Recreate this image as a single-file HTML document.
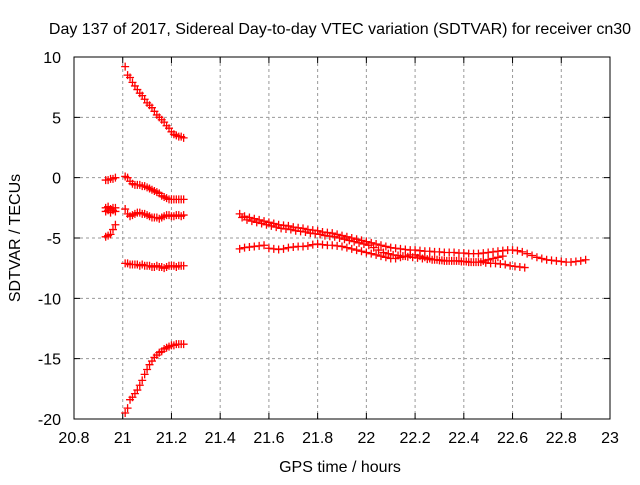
<!DOCTYPE html>
<html><head><meta charset="utf-8"><style>
body{margin:0;background:#fff}
svg text{font-family:"Liberation Sans",Arial,sans-serif;font-size:16px;fill:#000}
</style></head><body>
<svg id="c" width="640" height="480">
<text x="340" y="34" text-anchor="middle">Day 137 of 2017, Sidereal Day-to-day VTEC variation (SDTVAR) for receiver cn30</text>
<text x="340" y="472" text-anchor="middle">GPS time / hours</text>
<text transform="translate(20,238) rotate(-90)" text-anchor="middle">SDTVAR / TECUs</text>
<g id="grid"></g><g id="marks"></g>
<rect x="74" y="57" width="536" height="362" fill="none" stroke="#000" stroke-width="1"/>
</svg>
<script>
const xTicks=[20.8,21,21.2,21.4,21.6,21.8,22,22.2,22.4,22.6,22.8,23];
const xTickLabels=["20.8","21","21.2","21.4","21.6","21.8","22","22.2","22.4","22.6","22.8","23"];
const yTicks=[10,5,0,-5,-10,-15,-20];
const yTickLabels=["10","5","0","-5","-10","-15","-20"];
const xE=[21.01,21.02,21.03,21.04,21.05,21.06,21.07,21.08,21.09,21.10,21.11,21.12,21.13,21.14,21.15,21.16,21.17,21.18,21.19,21.20,21.21,21.22,21.23,21.24,21.25];
const sA=[9.2,8.5,8.3,7.9,7.6,7.3,7.0,6.8,6.5,6.2,6.0,5.8,5.5,5.2,5.0,4.8,4.6,4.3,4.1,3.8,3.6,3.5,3.4,3.4,3.3];
const sB=[0.1,0.0,-0.3,-0.5,-0.6,-0.6,-0.6,-0.7,-0.7,-0.8,-0.9,-1.0,-1.1,-1.2,-1.3,-1.5,-1.6,-1.7,-1.8,-1.8,-1.8,-1.8,-1.8,-1.8,-1.8];
const sC=[-2.6,-3.0,-3.2,-3.1,-3.0,-2.9,-2.9,-3.0,-3.0,-3.1,-3.2,-3.3,-3.3,-3.3,-3.4,-3.3,-3.2,-3.1,-3.1,-3.2,-3.2,-3.1,-3.1,-3.2,-3.1];
const sD=[-7.1,-7.1,-7.2,-7.2,-7.2,-7.2,-7.3,-7.2,-7.3,-7.3,-7.3,-7.4,-7.4,-7.3,-7.4,-7.4,-7.5,-7.4,-7.3,-7.3,-7.3,-7.4,-7.3,-7.3,-7.3];
const sE=[-19.5,-19.1,-18.4,-18.2,-17.9,-17.6,-17.2,-16.8,-16.3,-15.9,-15.5,-15.2,-14.9,-14.7,-14.5,-14.4,-14.2,-14.1,-14.0,-13.9,-13.9,-13.8,-13.8,-13.8,-13.8];
const xP=[20.93,20.94,20.95,20.96,20.97];
const sP1=[-0.2,-0.2,-0.1,-0.1,0.0];
const sP2=[-2.5,-2.4,-2.6,-2.5,-2.5];
const sP3=[-2.8,-2.7,-2.9,-2.7,-2.8];
const sP4=[-4.9,-4.8,-4.7,-4.3,-3.9];
const xU=[21.48,21.50,21.52,21.54,21.56,21.58,21.60,21.62,21.64,21.66,21.68,21.70,21.72,21.74,21.76,21.78,21.80,21.82,21.84,21.86,21.88,21.90,21.92,21.94,21.96,21.98,22.00,22.02,22.04,22.06,22.08,22.10,22.12,22.14,22.16,22.18,22.20,22.22,22.24,22.26,22.28,22.30,22.32,22.34,22.36,22.38,22.40,22.42,22.44,22.46,22.48,22.50,22.52,22.54,22.56,22.58,22.60,22.62,22.64,22.66,22.68,22.70,22.72,22.74,22.76,22.78,22.80,22.82,22.84,22.86,22.88,22.90];
const sU=[-3.0,-3.2,-3.3,-3.4,-3.5,-3.6,-3.7,-3.8,-3.9,-3.95,-4.0,-4.1,-4.15,-4.2,-4.3,-4.35,-4.4,-4.5,-4.55,-4.6,-4.7,-4.8,-4.9,-5.0,-5.1,-5.2,-5.3,-5.4,-5.5,-5.6,-5.7,-5.8,-5.85,-5.9,-5.95,-6.0,-6.0,-6.05,-6.1,-6.1,-6.15,-6.15,-6.2,-6.2,-6.2,-6.25,-6.25,-6.3,-6.3,-6.3,-6.25,-6.2,-6.15,-6.1,-6.05,-6.0,-6.0,-6.05,-6.15,-6.3,-6.45,-6.6,-6.7,-6.8,-6.85,-6.9,-6.95,-7.0,-7.0,-6.95,-6.9,-6.8];
const xU2=[21.49,21.51,21.53,21.55,21.57,21.59,21.61,21.63,21.65,21.67,21.69,21.71,21.73,21.75,21.77,21.79,21.81,21.83,21.85,21.87,21.89,21.91,21.93,21.95,21.97,21.99,22.01,22.03,22.05,22.07,22.09,22.11,22.13,22.15,22.17,22.19,22.21,22.23,22.25,22.27,22.29,22.31,22.33,22.35,22.37,22.39,22.41,22.43,22.45,22.47,22.49,22.51,22.53,22.55,22.57,22.59,22.61,22.63,22.65];
const sU2=[-3.3,-3.5,-3.6,-3.7,-3.8,-3.9,-4.0,-4.1,-4.2,-4.25,-4.3,-4.4,-4.45,-4.5,-4.6,-4.65,-4.7,-4.8,-4.85,-4.9,-5.0,-5.1,-5.2,-5.3,-5.4,-5.5,-5.6,-5.8,-6.0,-6.2,-6.3,-6.4,-6.45,-6.5,-6.55,-6.6,-6.65,-6.7,-6.75,-6.8,-6.8,-6.85,-6.9,-6.9,-6.9,-6.95,-6.95,-7.0,-7.0,-7.0,-7.05,-7.1,-7.1,-7.15,-7.2,-7.3,-7.35,-7.4,-7.45];
const xL=[21.48,21.50,21.52,21.54,21.56,21.58,21.60,21.62,21.64,21.66,21.68,21.70,21.72,21.74,21.76,21.78,21.80,21.82,21.84,21.86,21.88,21.90,21.92,21.94,21.96,21.98,22.00,22.02,22.04,22.06,22.08,22.10,22.12,22.14,22.16,22.18,22.20,22.22,22.24,22.26,22.28,22.30,22.32,22.34,22.36,22.38,22.40,22.42,22.44,22.46,22.48,22.50,22.52,22.54,22.56];
const sL=[-5.9,-5.8,-5.75,-5.7,-5.65,-5.6,-5.85,-5.9,-5.95,-5.9,-5.8,-5.75,-5.7,-5.7,-5.65,-5.55,-5.5,-5.55,-5.6,-5.6,-5.65,-5.7,-5.8,-5.9,-6.0,-6.1,-6.2,-6.3,-6.4,-6.5,-6.6,-6.7,-6.7,-6.6,-6.5,-6.4,-6.4,-6.5,-6.6,-6.7,-6.8,-6.85,-6.9,-6.9,-6.9,-6.9,-6.95,-7.0,-7.0,-7.0,-6.9,-6.8,-6.7,-6.6,-6.5];
const NS="http://www.w3.org/2000/svg";
const X=v=>74+(v-20.8)/2.2*536;
const Y=v=>57+(10-v)/30*362;
const grid=document.getElementById('grid');
function mk(t,a){const e=document.createElementNS(NS,t);for(const k in a)e.setAttribute(k,a[k]);return e;}
xTicks.forEach((t,i)=>{
 const x=X(t);
 if(i>0&&i<xTicks.length-1){const g=mk('line',{x1:x,x2:x,y1:57,y2:419,stroke:'#999','stroke-dasharray':'3,3'});
 
 grid.appendChild(g);}
 const tk=mk('path',{d:`M${x},419v-6M${x},57v6`,stroke:'#000'});
 
 grid.appendChild(tk);
 const l=mk('text',{x:x,y:443,'text-anchor':'middle'});l.textContent=xTickLabels[i];
 
 grid.appendChild(l);
});
yTicks.forEach((t,i)=>{
 const y=Y(t);
 if(i>0&&i<yTicks.length-1){const g=mk('line',{x1:74,x2:610,y1:y,y2:y,stroke:'#999','stroke-dasharray':'3,3'});
 
 grid.appendChild(g);}
 const tk=mk('path',{d:`M74,${y}h6M610,${y}h-6`,stroke:'#000'});
 
 grid.appendChild(tk);
 const l=mk('text',{x:61,y:y+6,'text-anchor':'end'});l.textContent=yTickLabels[i];
 
 grid.appendChild(l);
});
const marks=document.getElementById('marks');
function series(xs,ys,name){
 const g=mk('g',{});
 
 
 let d='';
 xs.forEach((xv,i)=>{const x=X(xv),y=Y(ys[i]);d+=`M${x-4},${y}h8M${x},${y-4}v8`;});
 g.appendChild(mk('path',{d:d,stroke:'#f00','stroke-width':1.3,fill:'none'}));
 marks.appendChild(g);
}
series(xE,sA,'series-a');series(xE,sB,'series-b');series(xE,sC,'series-c');
series(xE,sD,'series-d');series(xE,sE,'series-e');
series(xP,sP1,'series-p1');series(xP,sP2,'series-p2');series(xP,sP3,'series-p3');series(xP,sP4,'series-p4');
series(xU,sU,'series-upper');series(xU2,sU2,'series-upper-2');series(xL,sL,'series-lower');
</script>
</body></html>
